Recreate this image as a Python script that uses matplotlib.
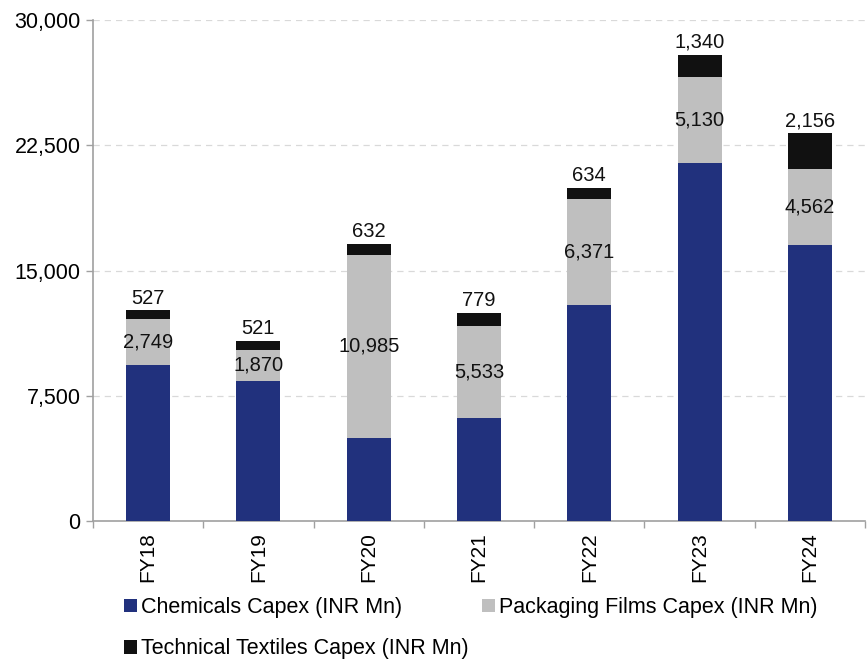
import matplotlib.pyplot as plt
import matplotlib.ticker as mticker
import numpy as np

plt.rcParams['font.family'] = ['Liberation Sans', 'DejaVu Sans']

years = ['FY18', 'FY19', 'FY20', 'FY21', 'FY22', 'FY23', 'FY24']
chemicals = [9330, 8390, 4970, 6170, 12940, 21450, 16500]
packaging = [2749, 1870, 10985, 5533, 6371, 5130, 4562]
textiles = [527, 521, 632, 779, 634, 1340, 2156]

c_blue = '#21317d'
c_gray = '#bfbfbf'
c_black = '#111111'
axis_gray = '#a0a0a0'

fig = plt.figure(figsize=(8.67, 6.6), dpi=100)
ax = fig.add_axes([93 / 867, 139 / 660, 772 / 867, 501 / 660])

x = np.arange(len(years))
chem = np.array(chemicals)
pack = np.array(packaging)
tex = np.array(textiles)

b1 = ax.bar(x, chem, width=0.4, color=c_blue, label='Chemicals Capex (INR Mn)', zorder=3)
b2 = ax.bar(x, pack, width=0.4, bottom=chem, color=c_gray, label='Packaging Films Capex (INR Mn)', zorder=3)
b3 = ax.bar(x, tex, width=0.4, bottom=chem + pack, color=c_black, label='Technical Textiles Capex (INR Mn)', zorder=3)

ax.bar_label(b2, labels=[f'{v:,}' for v in packaging], label_type='center', fontsize=14.5, color='#111111')
ax.bar_label(b3, labels=[f'{v:,}' for v in textiles], padding=2, fontsize=14.5, color='#111111')

ax.set_xlim(-0.5, len(years) - 0.5)
ax.set_ylim(0, 30000)
ax.set_yticks(np.arange(0, 30001, 7500))
ax.yaxis.set_major_formatter(mticker.FuncFormatter(lambda v, p: f'{int(v):,}'))
ax.yaxis.grid(True, linestyle=(0, (5, 4)), color='#d9d9d9', linewidth=0.9, zorder=0)

ax.set_xticks(x)
ax.set_xticklabels(years, rotation=90)
ax.set_xticks(np.arange(-0.5, len(years), 1), minor=True)
ax.tick_params(axis='x', which='major', length=0, labelsize=15, pad=8)
ax.tick_params(axis='x', which='minor', length=5, color=axis_gray, width=1)
ax.tick_params(axis='y', length=5, color=axis_gray, width=1, labelsize=15.5, pad=4)

for s in ['top', 'right']:
    ax.spines[s].set_visible(False)
for s in ['left', 'bottom']:
    ax.spines[s].set_color(axis_gray)
    ax.spines[s].set_linewidth(1.2)

# row-wise order: chemicals, packaging / textiles
fig.legend(handles=[b1, b3, b2], loc='upper left', bbox_to_anchor=(124 / 867, 1 - 597 / 660),
           ncol=2, frameon=False, fontsize=15.5, handlelength=0.6, handleheight=0.6,
           handletextpad=0.2, columnspacing=0.6, labelspacing=0.95, borderaxespad=0, borderpad=0)

fig.savefig('out.png', dpi=100)
